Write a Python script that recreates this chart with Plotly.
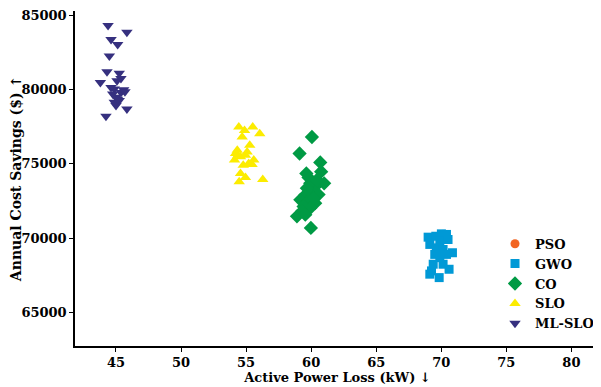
import plotly.graph_objects as go

# ---- data ----
pso_loss = [None]
pso_sav = [None]

gwo_loss = [68.99, 69.58, 70.01, 70.40, 69.12, 69.89, 70.52, 69.62, 70.14, 70.86,
            69.50, 70.40, 69.89, 69.38, 70.14, 70.60, 69.25, 69.84, 69.12]
gwo_sav = [70067, 70130, 70290, 70250, 69580, 69800, 69910, 69350, 69240, 69020,
           68910, 68910, 68690, 68250, 68250, 67910, 67800, 67350, 67580]

co_loss = [60.06, 59.11, 60.70, 60.77, 59.63, 59.80, 61.00, 60.31, 59.93, 60.44,
           59.55, 60.06, 60.57, 59.17, 59.80, 60.31, 59.42, 59.93, 59.29, 58.91,
           59.55, 59.98, 60.18, 59.67]
co_sav = [76800, 75690, 75090, 74470, 74350, 74070, 73690, 73470, 73690, 73910,
          72910, 72800, 72930, 72580, 72470, 72350, 72130, 72020, 71800, 71470,
          71580, 70690, 72690, 73360]

slo_loss = [54.44, 54.88, 55.51, 56.05, 54.70, 55.28, 54.32, 54.19, 55.08, 54.57,
            54.95, 54.11, 55.59, 54.78, 55.46, 54.57, 54.95, 54.47, 56.28, 55.20, 54.37]
slo_sav = [77467, 77240, 77470, 77020, 76800, 76250, 75910, 75690, 75800, 75470,
           75580, 75250, 75250, 74910, 74950, 74350, 74070, 73800, 73950, 75020, 75580]

mlslo_loss = [44.39, 45.84, 44.62, 45.13, 44.49, 44.31, 45.25, 43.80, 45.38, 45.08,
              44.62, 44.87, 45.59, 44.75, 45.38, 45.00, 44.87, 45.00, 45.25, 45.84,
              44.23, 45.69, 45.12]
mlslo_sav = [84290, 83850, 83350, 83020, 82250, 81180, 81090, 80470, 80730, 80580,
             80130, 80020, 79980, 79690, 79800, 79470, 79130, 78910, 79250, 78690,
             78200, 79850, 79330]

x_ticks = [45, 50, 55, 60, 65, 70, 75, 80]
y_ticks = [65000, 70000, 75000, 80000, 85000]

FONT = "DejaVu Serif"

fig = go.Figure()
series = [
    ("PSO", pso_loss, pso_sav, "circle", "#f26522", 9),
    ("GWO", gwo_loss, gwo_sav, "square", "#0099d6", 9),
    ("CO", co_loss, co_sav, "diamond", "#009a44", 11),
    ("SLO", slo_loss, slo_sav, "triangle-up", "#fcec00", 10),
    ("ML-SLO", mlslo_loss, mlslo_sav, "triangle-down", "#36307f", 10),
]
for name, xs, ys, sym, col, sz in series:
    fig.add_trace(go.Scatter(
        x=xs, y=ys, mode="markers", name="<b>" + name + "</b>",
        marker=dict(symbol=sym, color=col, size=sz, line=dict(width=0)),
        showlegend=True,
    ))

axis_common = dict(
    showgrid=False, zeroline=False, showline=True, linecolor="black", linewidth=1.5,
    ticks="outside", ticklen=4, tickwidth=1, tickcolor="black", mirror=False,
    tickfont=dict(family=FONT, size=13, color="black"),
    ticklabeloverflow="allow", automargin=False,
)

fig.update_layout(
    width=593, height=379,
    margin=dict(l=67, r=1, t=3, b=41),
    paper_bgcolor="white", plot_bgcolor="white",
    font=dict(family=FONT, color="black"),
    xaxis=dict(range=[41.85, 82.2], tickvals=x_ticks,
               ticktext=["<b>%d</b>" % v for v in x_ticks],
               title=dict(text="<b>Active Power Loss (kW) ↓</b>", font=dict(family=FONT, size=13), standoff=3),
               **axis_common),
    yaxis=dict(range=[62752, 85270], tickvals=y_ticks,
               ticktext=["<b>%d</b>" % v for v in y_ticks],
               title=dict(text="<b>Annual Cost Savings ($) ↑</b>", font=dict(family=FONT, size=14), standoff=6),
               **axis_common),
    legend=dict(x=0.80, y=0.35, xanchor="left", yanchor="top",
                font=dict(family=FONT, size=13, color="black"),
                bgcolor="rgba(0,0,0,0)", itemwidth=30, tracegroupgap=0),
)

fig.write_html("out.html")
